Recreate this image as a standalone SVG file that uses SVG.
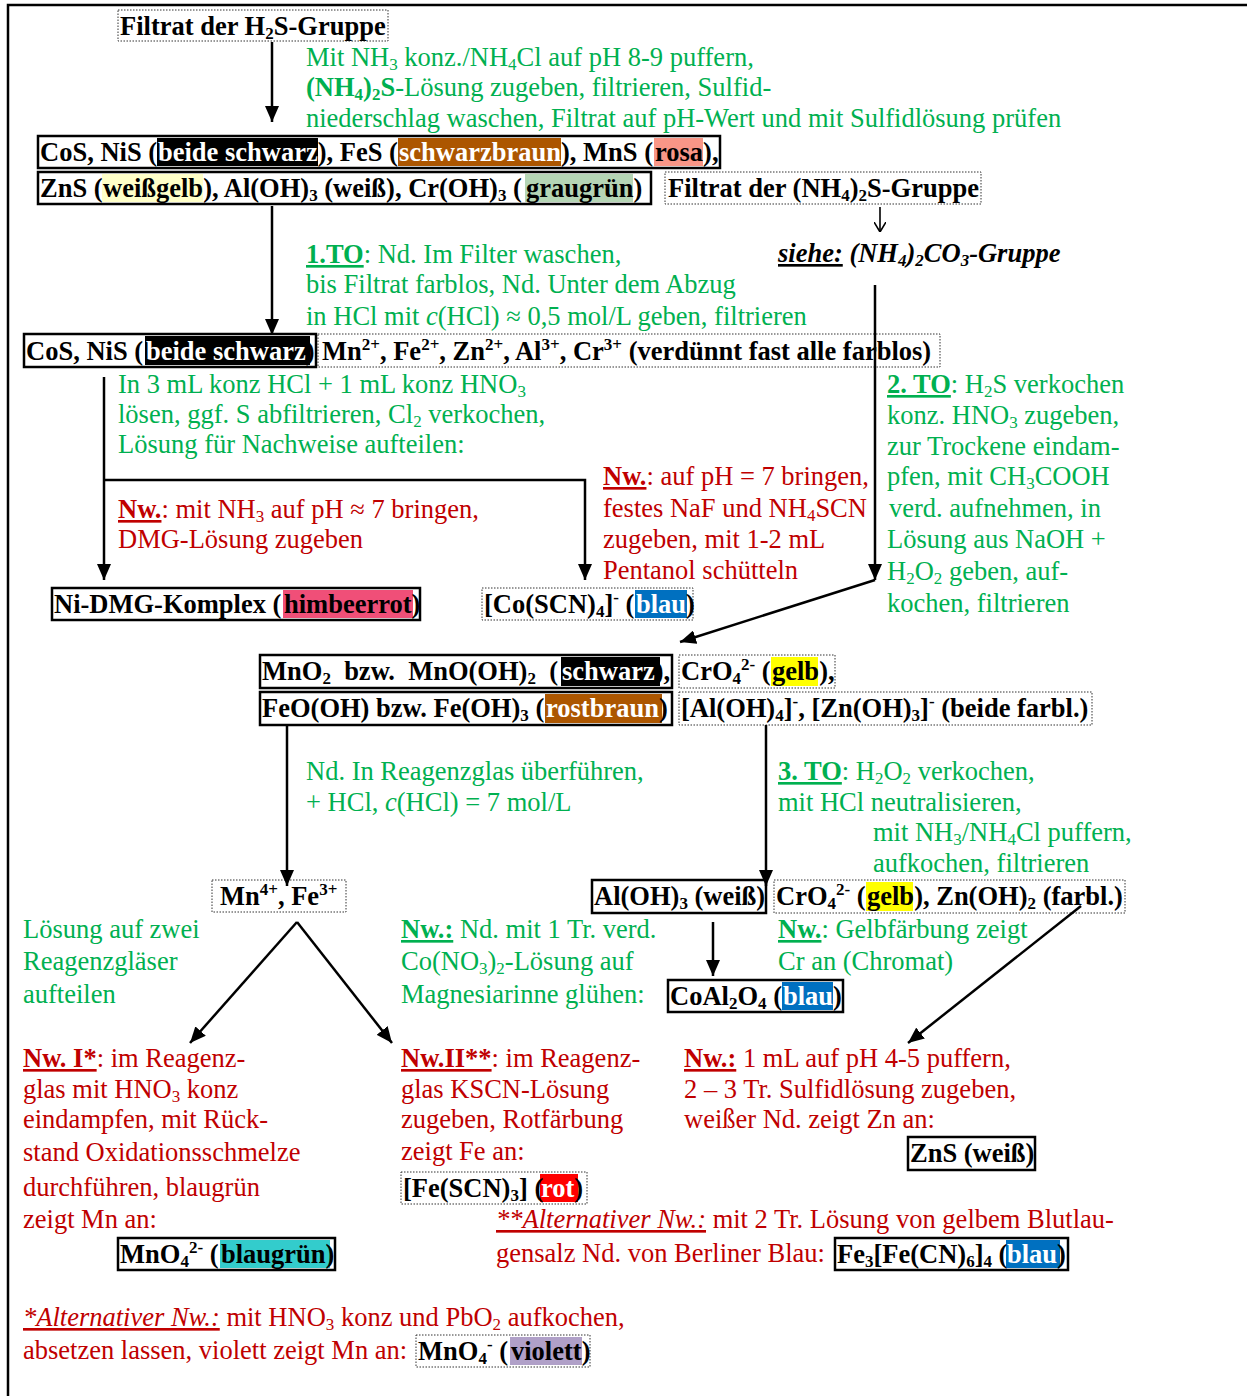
<svg xmlns="http://www.w3.org/2000/svg" width="1247" height="1396" viewBox="0 0 1247 1396">
<style>
  text { font-family: "Liberation Serif", "Times New Roman", serif; font-size: 26.5px; }
  .g { fill: #00b050; }
  .r { fill: #c00000; }
  .k { fill: #000; font-weight: bold; }
  .bi { fill: #000; font-weight: bold; font-style: italic; }
  .s { font-size: 17px; }
  .u { text-decoration: underline; }
  .w { fill: #fff; }
  .solid { fill: #fff; stroke: #000; stroke-width: 2.5; }
  .dot { fill: #fff; stroke: #333; stroke-width: 1; stroke-dasharray: 1.5 1.5; }
  .con { fill: none; stroke: #000; stroke-width: 2.5; }
</style>
<defs>
  <marker id="ah" viewBox="0 0 16 14" refX="16" refY="7" markerWidth="16" markerHeight="14" markerUnits="userSpaceOnUse" orient="auto">
    <path d="M0,0 L16,7 L0,14 z" fill="#000"/>
  </marker>
  <marker id="av" viewBox="0 0 10 12" refX="10" refY="6" markerWidth="10" markerHeight="12" markerUnits="userSpaceOnUse" orient="auto">
    <path d="M0,0 L10,6 L0,12" fill="none" stroke="#000" stroke-width="1.6"/>
  </marker>
</defs>
<rect width="1247" height="1396" fill="#fff"/>
<!-- page frame -->
<path d="M8,1396 V5 H1247" fill="none" stroke="#000" stroke-width="2.5"/>

<!-- H2S filtrate -->
<g id="n-h2s-filtrat">
  <rect class="dot" x="118" y="10" width="270" height="31"/>
  <text class="k" x="120" y="35">Filtrat der H<tspan class="s" dy="4">2</tspan><tspan dy="-4">S-Gruppe</tspan></text>
</g>

<g id="t-puffern">
  <text class="g" x="306" y="66">Mit NH<tspan class="s" dy="4">3</tspan><tspan dy="-4"> konz./NH</tspan><tspan class="s" dy="4">4</tspan><tspan dy="-4">Cl auf pH 8-9 puffern,</tspan></text>
  <text class="g" x="306" y="96"><tspan font-weight="bold">(NH</tspan><tspan class="s" font-weight="bold" dy="4">4</tspan><tspan font-weight="bold" dy="-4">)</tspan><tspan class="s" font-weight="bold" dy="4">2</tspan><tspan font-weight="bold" dy="-4">S</tspan>-Lösung zugeben, filtrieren, Sulfid-</text>
  <text class="g" x="306" y="127">niederschlag waschen, Filtrat auf pH-Wert und mit Sulfidlösung prüfen</text>
</g>

<!-- sulfide precipitate, first row -->
<g id="n-sulfide-1">
  <rect class="solid" x="38" y="136" width="682" height="32"/>
  <rect x="157" y="138" width="161" height="28" fill="#000"/>
  <rect x="398" y="138" width="163" height="28" fill="#ac5600"/>
  <rect x="654" y="138" width="49" height="28" fill="#f99687"/>
  <text class="k" x="40" y="161">CoS, NiS (<tspan class="w" x="158">beide schwarz</tspan><tspan>), FeS (</tspan><tspan class="w" x="399">schwarzbraun</tspan><tspan>), MnS (</tspan><tspan x="655">rosa</tspan><tspan>),</tspan></text>
</g>

<!-- sulfide precipitate, second row -->
<g id="n-sulfide-2">
  <rect class="solid" x="38" y="172" width="613" height="32"/>
  <rect x="102" y="174" width="101" height="28" fill="#ffffc8"/>
  <rect x="525" y="174" width="108" height="28" fill="#b5d5b5"/>
  <text class="k" x="40" y="197">ZnS (<tspan x="103">weißgelb</tspan><tspan>), Al(OH)</tspan><tspan class="s" dy="4">3</tspan><tspan dy="-4"> (weiß), Cr(OH)</tspan><tspan class="s" dy="4">3</tspan><tspan dy="-4"> (</tspan><tspan x="526">graugrün</tspan><tspan>)</tspan></text>
</g>

<g id="n-nh4s-filtrat">
  <rect class="dot" x="665" y="172" width="316" height="32"/>
  <text class="k" x="668" y="197">Filtrat der (NH<tspan class="s" dy="4">4</tspan><tspan dy="-4">)</tspan><tspan class="s" dy="4">2</tspan><tspan dy="-4">S-Gruppe</tspan></text>
</g>

<g id="n-siehe">
  <text class="bi" x="778" y="262"><tspan class="u">siehe:</tspan> (NH<tspan class="s" dy="4">4</tspan><tspan dy="-4">)</tspan><tspan class="s" dy="4">2</tspan><tspan dy="-4">CO</tspan><tspan class="s" dy="4">3</tspan><tspan dy="-4">-Gruppe</tspan></text>
</g>

<g id="t-to1">
  <text class="g" x="306" y="263"><tspan class="u" font-weight="bold">1.TO</tspan>: Nd. Im Filter waschen,</text>
  <text class="g" x="306" y="293">bis Filtrat farblos, Nd. Unter dem Abzug</text>
  <text class="g" x="306" y="325">in HCl mit <tspan font-style="italic">c</tspan>(HCl) ≈ 0,5 mol/L geben, filtrieren</text>
</g>

<g id="n-cos-nis">
  <rect class="solid" x="24" y="334" width="292" height="33"/>
  <rect x="145" y="336" width="165" height="29" fill="#000"/>
  <text class="k" x="26" y="360">CoS, NiS (<tspan class="w" x="146">beide schwarz</tspan><tspan>)</tspan></text>
</g>

<g id="n-ionen">
  <rect class="dot" x="318" y="334" width="622" height="33"/>
  <text class="k" x="322" y="360">Mn<tspan class="s" dy="-10">2+</tspan><tspan dy="10">, Fe</tspan><tspan class="s" dy="-10">2+</tspan><tspan dy="10">, Zn</tspan><tspan class="s" dy="-10">2+</tspan><tspan dy="10">, Al</tspan><tspan class="s" dy="-10">3+</tspan><tspan dy="10">, Cr</tspan><tspan class="s" dy="-10">3+</tspan><tspan dy="10"> (verdünnt fast alle farblos)</tspan></text>
</g>

<g id="t-aufschluss">
  <text class="g" x="118" y="393">In 3 mL konz HCl + 1 mL konz HNO<tspan class="s" dy="4">3</tspan></text>
  <text class="g" x="118" y="423">lösen, ggf. S abfiltrieren, Cl<tspan class="s" dy="4">2</tspan><tspan dy="-4"> verkochen,</tspan></text>
  <text class="g" x="118" y="453">Lösung für Nachweise aufteilen:</text>
</g>

<g id="t-to2">
  <text class="g" x="887" y="393"><tspan class="u" font-weight="bold">2. TO</tspan>: H<tspan class="s" dy="4">2</tspan><tspan dy="-4">S verkochen</tspan></text>
  <text class="g" x="887" y="424">konz. HNO<tspan class="s" dy="4">3</tspan><tspan dy="-4"> zugeben,</tspan></text>
  <text class="g" x="887" y="455">zur Trockene eindam-</text>
  <text class="g" x="887" y="485">pfen, mit CH<tspan class="s" dy="4">3</tspan><tspan dy="-4">COOH</tspan></text>
  <text class="g" x="889" y="517">verd. aufnehmen, in</text>
  <text class="g" x="887" y="548">Lösung aus NaOH +</text>
  <text class="g" x="887" y="580">H<tspan class="s" dy="4">2</tspan><tspan dy="-4">O</tspan><tspan class="s" dy="4">2</tspan><tspan dy="-4"> geben, auf-</tspan></text>
  <text class="g" x="887" y="612">kochen, filtrieren</text>
</g>

<g id="t-nw-ni">
  <text class="r" x="118" y="518"><tspan class="u" font-weight="bold">Nw.</tspan>: mit NH<tspan class="s" dy="4">3</tspan><tspan dy="-4"> auf pH ≈ 7 bringen,</tspan></text>
  <text class="r" x="118" y="548">DMG-Lösung zugeben</text>
</g>

<g id="t-nw-co">
  <text class="r" x="603" y="485"><tspan class="u" font-weight="bold">Nw.</tspan>: auf pH = 7 bringen,</text>
  <text class="r" x="603" y="517">festes NaF und NH<tspan class="s" dy="4">4</tspan><tspan dy="-4">SCN</tspan></text>
  <text class="r" x="603" y="548">zugeben, mit 1-2 mL</text>
  <text class="r" x="603" y="579">Pentanol schütteln</text>
</g>

<g id="n-ni-dmg">
  <rect class="solid" x="52" y="588" width="368" height="32"/>
  <rect x="283" y="590" width="130" height="28" fill="#f04f78"/>
  <text class="k" x="54" y="613">Ni-DMG-Komplex (<tspan x="284">himbeerrot</tspan><tspan>)</tspan></text>
</g>

<g id="n-co-scn">
  <rect class="dot" x="482" y="588" width="211" height="32"/>
  <rect x="635" y="590" width="52" height="28" fill="#0070c0"/>
  <text class="k" x="484" y="613">[Co(SCN)<tspan class="s" dy="4">4</tspan><tspan dy="-4">]</tspan><tspan class="s" dy="-10">-</tspan><tspan dy="10"> (</tspan><tspan class="w" x="636">blau</tspan><tspan>)</tspan></text>
</g>

<g id="n-mno2">
  <rect class="solid" x="260" y="655" width="412" height="33"/>
  <rect x="561" y="657" width="99" height="29" fill="#000"/>
  <text class="k" x="262" y="680" xml:space="preserve">MnO<tspan class="s" dy="4">2</tspan><tspan dy="-4">  bzw.  MnO(OH)</tspan><tspan class="s" dy="4">2</tspan><tspan dy="-4">  (</tspan><tspan class="w" x="562">schwarz</tspan><tspan>),</tspan></text>
</g>

<g id="n-cro4">
  <rect class="dot" x="679" y="655" width="156" height="33"/>
  <rect x="771" y="657" width="47" height="29" fill="#ffff00"/>
  <text class="k" x="681" y="680">CrO<tspan class="s" dy="4">4</tspan><tspan class="s" dy="-14">2-</tspan><tspan dy="10"> (</tspan><tspan x="772">gelb</tspan><tspan>),</tspan></text>
</g>

<g id="n-feooh">
  <rect class="solid" x="260" y="692" width="412" height="33"/>
  <rect x="545" y="694" width="117" height="29" fill="#ac5600"/>
  <text class="k" x="262" y="717">FeO(OH) bzw. Fe(OH)<tspan class="s" dy="4">3</tspan><tspan dy="-4"> (</tspan><tspan class="w" x="546">rostbraun</tspan><tspan>)</tspan></text>
</g>

<g id="n-hydroxo">
  <rect class="dot" x="679" y="692" width="413" height="33"/>
  <text class="k" x="681" y="717">[Al(OH)<tspan class="s" dy="4">4</tspan><tspan dy="-4">]</tspan><tspan class="s" dy="-10">-</tspan><tspan dy="10">, [Zn(OH)</tspan><tspan class="s" dy="4">3</tspan><tspan dy="-4">]</tspan><tspan class="s" dy="-10">-</tspan><tspan dy="10"> (beide farbl.)</tspan></text>
</g>

<g id="t-hcl">
  <text class="g" x="306" y="780">Nd. In Reagenzglas überführen,</text>
  <text class="g" x="306" y="811">+ HCl, <tspan font-style="italic">c</tspan>(HCl) = 7 mol/L</text>
</g>

<g id="t-to3">
  <text class="g" x="778" y="780"><tspan class="u" font-weight="bold">3. TO</tspan>: H<tspan class="s" dy="4">2</tspan><tspan dy="-4">O</tspan><tspan class="s" dy="4">2</tspan><tspan dy="-4"> verkochen,</tspan></text>
  <text class="g" x="778" y="811">mit HCl neutralisieren,</text>
  <text class="g" x="873" y="841">mit NH<tspan class="s" dy="4">3</tspan><tspan dy="-4">/NH</tspan><tspan class="s" dy="4">4</tspan><tspan dy="-4">Cl puffern,</tspan></text>
  <text class="g" x="873" y="872">aufkochen, filtrieren</text>
</g>

<g id="n-mn-fe">
  <rect class="dot" x="212" y="880" width="134" height="32"/>
  <text class="k" x="220" y="905">Mn<tspan class="s" dy="-10">4+</tspan><tspan dy="10">, Fe</tspan><tspan class="s" dy="-10">3+</tspan></text>
</g>

<g id="n-aloh3">
  <rect class="solid" x="592" y="880" width="174" height="33"/>
  <text class="k" x="594" y="905">Al(OH)<tspan class="s" dy="4">3</tspan><tspan dy="-4"> (weiß)</tspan></text>
</g>

<g id="n-cro4-znoh2">
  <rect class="dot" x="774" y="880" width="351" height="33"/>
  <rect x="866" y="882" width="47" height="29" fill="#ffff00"/>
  <text class="k" x="776" y="905">CrO<tspan class="s" dy="4">4</tspan><tspan class="s" dy="-14">2-</tspan><tspan dy="10"> (</tspan><tspan x="867">gelb</tspan><tspan>), Zn(OH)</tspan><tspan class="s" dy="4">2</tspan><tspan dy="-4"> (farbl.)</tspan></text>
</g>

<g id="t-aufteilen">
  <text class="g" x="23" y="938">Lösung auf zwei</text>
  <text class="g" x="23" y="970">Reagenzgläser</text>
  <text class="g" x="23" y="1003">aufteilen</text>
</g>

<g id="t-nw-al">
  <text class="g" x="401" y="938"><tspan class="u" font-weight="bold">Nw.:</tspan> Nd. mit 1 Tr. verd.</text>
  <text class="g" x="401" y="970">Co(NO<tspan class="s" dy="4">3</tspan><tspan dy="-4">)</tspan><tspan class="s" dy="4">2</tspan><tspan dy="-4">-Lösung auf</tspan></text>
  <text class="g" x="401" y="1003">Magnesiarinne glühen:</text>
</g>

<g id="t-nw-cr">
  <text class="g" x="778" y="938"><tspan class="u" font-weight="bold">Nw.</tspan>: Gelbfärbung zeigt</text>
  <text class="g" x="778" y="970">Cr an (Chromat)</text>
</g>

<g id="n-coal2o4">
  <rect class="solid" x="668" y="980" width="175" height="32"/>
  <rect x="782" y="982" width="51" height="28" fill="#0070c0"/>
  <text class="k" x="670" y="1005">CoAl<tspan class="s" dy="4">2</tspan><tspan dy="-4">O</tspan><tspan class="s" dy="4">4</tspan><tspan dy="-4"> (</tspan><tspan class="w" x="783">blau</tspan><tspan>)</tspan></text>
</g>

<g id="t-nw-mn">
  <text class="r" x="23" y="1067"><tspan class="u" font-weight="bold">Nw. I*</tspan>: im Reagenz-</text>
  <text class="r" x="23" y="1098">glas mit HNO<tspan class="s" dy="4">3</tspan><tspan dy="-4"> konz</tspan></text>
  <text class="r" x="23" y="1128">eindampfen, mit Rück-</text>
  <text class="r" x="23" y="1161">stand Oxidationsschmelze</text>
  <text class="r" x="23" y="1196">durchführen, blaugrün</text>
  <text class="r" x="23" y="1228">zeigt Mn an:</text>
</g>

<g id="n-mno4-2">
  <rect class="solid" x="118" y="1238" width="217" height="32"/>
  <rect x="220" y="1240" width="110" height="28" fill="#33cccc"/>
  <text class="k" x="120" y="1263">MnO<tspan class="s" dy="4">4</tspan><tspan class="s" dy="-14">2-</tspan><tspan dy="10"> (</tspan><tspan x="221">blaugrün</tspan><tspan>)</tspan></text>
</g>

<g id="t-nw-fe">
  <text class="r" x="401" y="1067"><tspan class="u" font-weight="bold">Nw.II**</tspan>: im Reagenz-</text>
  <text class="r" x="401" y="1098">glas KSCN-Lösung</text>
  <text class="r" x="401" y="1128">zugeben, Rotfärbung</text>
  <text class="r" x="401" y="1160">zeigt Fe an:</text>
</g>

<g id="n-fe-scn">
  <rect class="dot" x="401" y="1172" width="186" height="32"/>
  <rect x="540" y="1174" width="38" height="28" fill="#ff0000"/>
  <text class="k" x="403" y="1197">[Fe(SCN)<tspan class="s" dy="4">3</tspan><tspan dy="-4">] (</tspan><tspan class="w" x="541">rot</tspan><tspan>)</tspan></text>
</g>

<g id="t-alt-fe">
  <text class="r" x="496" y="1228"><tspan class="u" font-style="italic">**Alternativer Nw.:</tspan> mit 2 Tr. Lösung von gelbem Blutlau-</text>
  <text class="r" x="496" y="1262">gensalz Nd. von Berliner Blau:</text>
</g>

<g id="n-berliner-blau">
  <rect class="solid" x="835" y="1238" width="233" height="32"/>
  <rect x="1006" y="1240" width="54" height="28" fill="#0070c0"/>
  <text class="k" x="837" y="1263">Fe<tspan class="s" dy="4">3</tspan><tspan dy="-4">[Fe(CN)</tspan><tspan class="s" dy="4">6</tspan><tspan dy="-4">]</tspan><tspan class="s" dy="4">4</tspan><tspan dy="-4"> (</tspan><tspan class="w" x="1007">blau</tspan><tspan>)</tspan></text>
</g>

<g id="t-nw-zn">
  <text class="r" x="684" y="1067"><tspan class="u" font-weight="bold">Nw.:</tspan> 1 mL auf pH 4-5 puffern,</text>
  <text class="r" x="684" y="1098">2 – 3 Tr. Sulfidlösung zugeben,</text>
  <text class="r" x="684" y="1128">weißer Nd. zeigt Zn an:</text>
</g>

<g id="n-zns">
  <rect class="solid" x="908" y="1137" width="127" height="33"/>
  <text class="k" x="910" y="1162">ZnS (weiß)</text>
</g>

<g id="t-alt-mn">
  <text class="r" x="23" y="1326"><tspan class="u" font-style="italic">*Alternativer Nw.:</tspan> mit HNO<tspan class="s" dy="4">3</tspan><tspan dy="-4"> konz und PbO</tspan><tspan class="s" dy="4">2</tspan><tspan dy="-4"> aufkochen,</tspan></text>
  <text class="r" x="23" y="1359">absetzen lassen, violett zeigt Mn an:</text>
</g>

<g id="n-mno4">
  <rect class="dot" x="416" y="1335" width="174" height="32"/>
  <rect x="510" y="1337" width="72" height="28" fill="#b0a0c8"/>
  <text class="k" x="418" y="1360">MnO<tspan class="s" dy="4">4</tspan><tspan class="s" dy="-14">-</tspan><tspan dy="10"> (</tspan><tspan x="511">violett</tspan><tspan>)</tspan></text>
</g>

<!-- connectors, drawn on top of the boxes they cross -->
<g id="connectors" class="con">
  <line x1="272" y1="42" x2="272" y2="122" marker-end="url(#ah)"/>
  <line x1="880" y1="207" x2="880" y2="232" stroke-width="1.6" marker-end="url(#av)"/>
  <line x1="272" y1="206" x2="272" y2="335" marker-end="url(#ah)"/>
  <line x1="875" y1="285" x2="875" y2="580" marker-end="url(#ah)"/>
  <line x1="875" y1="580" x2="680" y2="642" marker-end="url(#ah)"/>
  <line x1="104" y1="377" x2="104" y2="580" marker-end="url(#ah)"/>
  <polyline points="104,480 585,480 585,580" marker-end="url(#ah)"/>
  <line x1="287" y1="725" x2="287" y2="886" marker-end="url(#ah)"/>
  <line x1="766" y1="725" x2="766" y2="886" marker-end="url(#ah)"/>
  <line x1="297" y1="922" x2="190" y2="1043" marker-end="url(#ah)"/>
  <line x1="297" y1="922" x2="392" y2="1043" marker-end="url(#ah)"/>
  <line x1="713" y1="922" x2="713" y2="976" marker-end="url(#ah)"/>
  <line x1="1081" y1="906" x2="908" y2="1043" marker-end="url(#ah)"/>
</g>
</svg>
